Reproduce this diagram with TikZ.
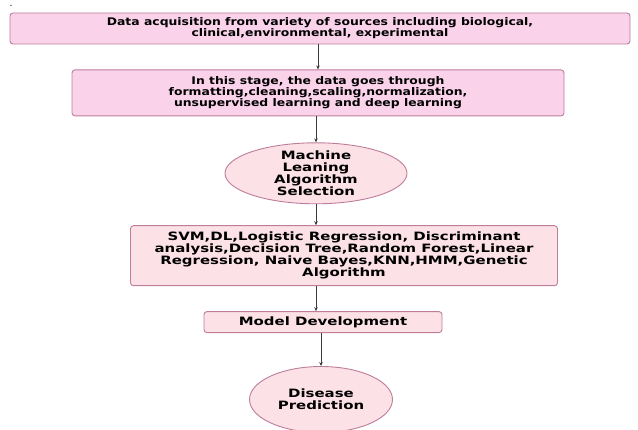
\documentclass[tikz,border=0pt]{standalone}
\usepackage{fontspec}
\setmainfont{DejaVu Sans}
\newfontfamily\topfont{DejaVu Sans}[FakeStretch=1.18]
\newfontfamily\lowfont{DejaVu Sans}[FakeStretch=1.3]
\usetikzlibrary{positioning,arrows.meta,shapes.geometric}
\definecolor{flPink}{RGB}{250,211,234}
\definecolor{flRose}{RGB}{252,225,231}
\definecolor{flEdge}{RGB}{190,125,155}
\definecolor{flLine}{RGB}{60,60,60}

\begin{document}
\begin{tikzpicture}[
    x=1pt, y=-1pt,
    stage node/.style={rectangle, rounded corners=3pt, draw=flEdge, line width=0.9pt, fill=flPink, align=center, font=\topfont\bfseries\fontsize{10.5}{11}\selectfont, inner sep=0pt},
    plain node/.style={stage node, fill=flRose, font=\lowfont\bfseries\fontsize{11.5}{12}\selectfont},
    choice node/.style={ellipse, draw=flEdge, line width=0.9pt, fill=flRose, align=center, font=\lowfont\bfseries\fontsize{11.5}{12}\selectfont, inner sep=0pt},
    flow arrow/.style={-{Stealth[length=4pt,width=3.5pt]}, draw=flLine, line width=0.75pt}
]
  \useasboundingbox (0,0) rectangle (638,430);
  \node[inner sep=0pt, anchor=base, font=\fontsize{9}{9}\selectfont] (dot) at (11,6.5) {.};
  \node[stage node, minimum width=620pt, minimum height=31pt] (acq) at (320,28.5)
    {Data acquisition from variety of sources including biological,\\ clinical,environmental, experimental};
  \node[stage node, minimum width=492pt, minimum height=46pt] (prep) [below=25pt of acq, xshift=-2pt]
    {In this stage, the data goes through\\ formatting,cleaning,scaling,normalization,\\ unsupervised learning and deep learning};
  \node[choice node, inner ysep=-2.5pt, minimum width=182pt, minimum height=61pt] (select) [below=26pt of prep, xshift=-2pt]
    {Machine\\ Leaning\\ Algorithm\\ Selection};
  \node[plain node, minimum width=427pt, minimum height=60pt] (algos) [below=21pt of select, xshift=28pt]
    {SVM,DL,Logistic Regression, Discriminant\\ analysis,Decision Tree,Random Forest,Linear\\ Regression, Naive Bayes,KNN,HMM,Genetic\\ Algorithm};
  \node[plain node, minimum width=238pt, minimum height=21pt] (model) [below=25pt of algos, xshift=-21pt]
    {Model Development};
  \node[choice node, minimum width=143pt, minimum height=66pt] (predict) [below=33pt of model, xshift=-2pt]
    {Disease\\ Prediction};

  \draw[flow arrow] (acq.south -| prep.north) -- (prep.north);
  \draw[flow arrow] (prep.south -| select.north) -- (select.north);
  \draw[flow arrow] (select.south) -- (select.south |- algos.north);
  \draw[flow arrow] (algos.south -| select.south) -- (select.south |- model.north);
  \draw[flow arrow] (model.south -| predict.north) -- (predict.north);
\end{tikzpicture}
\end{document}
